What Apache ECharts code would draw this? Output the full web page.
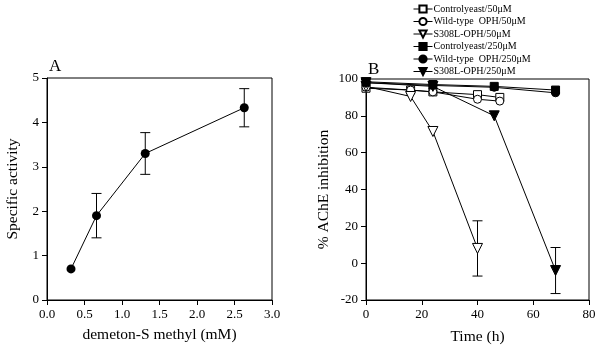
<!DOCTYPE html>
<html>
<head>
<meta charset="utf-8">
<script src="https://cdn.jsdelivr.net/npm/echarts@6/dist/echarts.min.js"></script>
<style>
  html, body { margin: 0; padding: 0; background: #fff; }
  #chart { width: 600px; height: 350px; }
</style>
</head>
<body>
<div id="chart"></div>
<script>
// Panel A
const doseMm = [0.32, 0.66, 1.31, 2.63];
const specificActivity = [0.7, 1.9, 3.3, 4.33];
const activityErr = [0, 0.5, 0.47, 0.43];

// Panel B
const time50 = [0, 16, 24, 40, 48];
const control50 = [95, 94, 93, 91.5, 90];
const wildType50 = [95.5, 94, 93, 89, 88];
const timeS308L50 = [0, 16, 24, 40];
const s308l50 = [96, 90.5, 71.5, 8];
const s308l50Err = [0, 0, 0, 15];
const time250 = [0, 24, 46, 68];
const control250 = [98.5, 97, 96, 94];
const wildType250 = [98, 96.5, 95.5, 92.5];
const s308l250 = [98, 96, 80, -4];
const s308l250Err = [0, 0, 0, 12.5];

const seriesNames = [
  'Controlyeast/50μM', 'Wild-type  OPH/50μM', 'S308L-OPH/50μM',
  'Controlyeast/250μM', 'Wild-type  OPH/250μM', 'S308L-OPH/250μM'
];

const FONT = 'Liberation Serif';
const downTri = 'path://M0,0 L10,0 L5,9 Z';

const pairs = (xs, ys) => xs.map((x, i) => [x, ys[i]]);
const errRows = (xs, ys, es) => xs.map((x, i) => [x, ys[i] - es[i], ys[i] + es[i]]).filter((r, i) => es[i] > 0);

function errorBar(params, api) {
  const x = api.value(0);
  const lo = api.coord([x, api.value(1)]);
  const hi = api.coord([x, api.value(2)]);
  const hw = 5;
  const st = { stroke: '#000', lineWidth: 1 };
  return {
    type: 'group',
    children: [
      { type: 'line', shape: { x1: lo[0], y1: lo[1], x2: hi[0], y2: hi[1] }, style: st },
      { type: 'line', shape: { x1: lo[0] - hw, y1: lo[1], x2: lo[0] + hw, y2: lo[1] }, style: st },
      { type: 'line', shape: { x1: hi[0] - hw, y1: hi[1], x2: hi[0] + hw, y2: hi[1] }, style: st }
    ]
  };
}

function lineSeries(name, data, symbol, filled, size) {
  return {
    name: name,
    type: 'line',
    xAxisIndex: 1,
    yAxisIndex: 1,
    data: data,
    symbol: symbol,
    symbolSize: size,
    showAllSymbol: true,
    lineStyle: { color: '#000', width: 1 },
    itemStyle: { color: filled ? '#000' : '#fff', borderColor: '#000', borderWidth: 1 },
    emphasis: { disabled: true },
    z: 3
  };
}

const chart = echarts.init(document.getElementById('chart'));

const axisCommon = {
  axisLine: { onZero: false, lineStyle: { color: '#000', width: 1 } },
  axisTick: { inside: false, length: 5, lineStyle: { color: '#000' } },
  splitLine: { show: false },
  axisLabel: { color: '#000', fontFamily: FONT, fontSize: 13 },
  nameTextStyle: { color: '#000', fontFamily: FONT, fontSize: 15.5 }
};

chart.setOption({
  animation: false,
  textStyle: { fontFamily: FONT, color: '#000' },
  title: [
    { text: 'A', left: 49, top: 58, padding: 0, textStyle: { fontFamily: FONT, fontSize: 17, fontWeight: 'normal', color: '#000' } },
    { text: 'B', left: 368, top: 61, padding: 0, textStyle: { fontFamily: FONT, fontSize: 17, fontWeight: 'normal', color: '#000' } }
  ],
  grid: [
    { left: 47, top: 78, width: 225, height: 222, show: true, borderColor: '#000', borderWidth: 1 },
    { left: 366, top: 79, width: 223, height: 224, show: true, borderColor: '#000', borderWidth: 1 }
  ],
  legend: {
    orient: 'vertical',
    left: 413,
    top: 4,
    padding: 0,
    itemWidth: 19,
    itemHeight: 9,
    itemGap: 2.5,
    data: seriesNames,
    lineStyle: { width: 1 },
    textStyle: { fontFamily: FONT, fontSize: 10, lineHeight: 10, color: '#000', padding: [0, 0, 0, -4] }
  },
  xAxis: [
    Object.assign({}, axisCommon, {
      gridIndex: 0, type: 'value', min: 0, max: 3, interval: 0.5,
      name: 'demeton-S methyl (mM)', nameLocation: 'middle', nameGap: 27,
      axisLabel: Object.assign({}, axisCommon.axisLabel, { formatter: v => v.toFixed(1) })
    }),
    Object.assign({}, axisCommon, {
      gridIndex: 1, type: 'value', min: 0, max: 80, interval: 20,
      name: 'Time (h)', nameLocation: 'middle', nameGap: 29
    })
  ],
  yAxis: [
    Object.assign({}, axisCommon, {
      gridIndex: 0, type: 'value', min: 0, max: 5, interval: 1,
      name: 'Specific activity', nameLocation: 'middle', nameGap: 26
    }),
    Object.assign({}, axisCommon, {
      gridIndex: 1, type: 'value', min: -20, max: 100, interval: 20,
      name: '% AChE inhibition', nameLocation: 'middle', nameGap: 34
    })
  ],
  series: [
    {
      type: 'line', xAxisIndex: 0, yAxisIndex: 0,
      data: pairs(doseMm, specificActivity),
      symbol: 'circle', symbolSize: 9,
      lineStyle: { color: '#000', width: 1 },
      itemStyle: { color: '#000' },
      emphasis: { disabled: true }, z: 3
    },
    {
      type: 'custom', xAxisIndex: 0, yAxisIndex: 0,
      data: errRows(doseMm, specificActivity, activityErr),
      renderItem: errorBar, z: 2
    },
    lineSeries(seriesNames[0], pairs(time50, control50), 'rect', false, 8),
    lineSeries(seriesNames[1], pairs(time50, wildType50), 'circle', false, 8),
    lineSeries(seriesNames[2], pairs(timeS308L50, s308l50), downTri, false, 10),
    lineSeries(seriesNames[3], pairs(time250, control250), 'rect', true, 8),
    lineSeries(seriesNames[4], pairs(time250, wildType250), 'circle', true, 8),
    lineSeries(seriesNames[5], pairs(time250, s308l250), downTri, true, 10),
    {
      type: 'custom', xAxisIndex: 1, yAxisIndex: 1,
      data: errRows(timeS308L50, s308l50, s308l50Err).concat(errRows(time250, s308l250, s308l250Err)),
      renderItem: errorBar, z: 2
    }
  ]
});
</script>
</body>
</html>
